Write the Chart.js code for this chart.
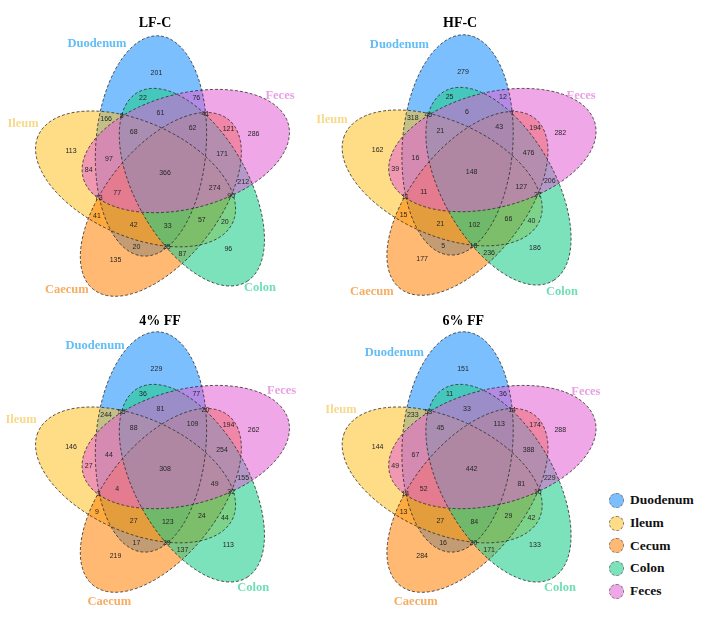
<!DOCTYPE html>
<html>
<head>
<meta charset="utf-8">
<script src="https://cdn.jsdelivr.net/npm/chart.js@4.4.0/dist/chart.umd.min.js"></script>
<style>
  html, body { margin: 0; padding: 0; background: #fff; }
  #wrap { position: relative; width: 708px; height: 618px; overflow: hidden; }
  #wrap canvas { position: absolute; }
  #legend { position: absolute; left: 609px; top: 489px; font: bold 13.5px "Liberation Serif", serif; color: #111; }
  #legend .row { height: 22.7px; display: flex; align-items: center; }
  #legend .dot { width: 15px; height: 15px; border-radius: 50%; border: 1px dashed #777; margin-right: 6px; box-sizing: border-box; }
</style>
</head>
<body>
<div id="wrap"><div id="legend"></div></div>
<script>
// sets (legend order) and the short keys used in region names
const setNames = ['Duodenum', 'Ileum', 'Caecum', 'Colon', 'Feces'];
const legendNames = ['Duodenum', 'Ileum', 'Cecum', 'Colon', 'Feces'];
const setKeys = ['D', 'I', 'Ca', 'Co', 'F'];
const panelTitles = ['LF-C', 'HF-C', '4% FF', '6% FF'];

// every region of the five-set diagram
const regions = [
  'D', 'F', 'Co', 'Ca', 'I',
  'D F', 'F Co', 'Co Ca', 'Ca I', 'I D',
  'D Co', 'F Ca', 'Co I', 'Ca D', 'I F',
  'D F Co', 'F Co Ca', 'Co Ca I', 'Ca I D', 'I D F',
  'D Co I', 'F Ca D', 'Co I F', 'Ca D Co', 'I F Ca',
  'F Co Ca I', 'D Co Ca I', 'D F Ca I', 'D F Co I', 'D F Co Ca',
  'D F Co Ca I'
];

// OTU counts per region, same order as regions
const lfC = [201, 286, 96, 135, 113, 76, 212, 87, 41, 166, 22, 121, 20, 20, 84,
  61, 171, 57, 42, 97, 8, 41, 90, 25, 73, 274, 33, 77, 68, 62, 366];
const hfC = [279, 282, 186, 177, 162, 12, 206, 236, 15, 318, 25, 194, 40, 5, 39,
  6, 476, 66, 21, 16, 46, 7, 27, 18, 11, 127, 102, 11, 21, 43, 148];
const ff4 = [229, 262, 113, 219, 146, 77, 155, 137, 9, 244, 36, 194, 44, 17, 27,
  81, 254, 24, 27, 44, 55, 20, 32, 29, 3, 49, 123, 4, 88, 109, 308];
const ff6 = [151, 288, 133, 284, 144, 36, 229, 171, 13, 233, 11, 174, 42, 16, 49,
  33, 388, 29, 27, 67, 53, 14, 16, 20, 14, 81, 84, 52, 45, 113, 442];
const panelValues = [lfC, hfC, ff4, ff6];

// ---- layout / style ----
const fills = ['rgba(30,144,255,0.58)', 'rgba(255,193,37,0.55)', 'rgba(255,127,0,0.55)',
  'rgba(30,205,140,0.58)', 'rgba(228,95,212,0.55)'];
const catColors = ['#62bdf6', '#f8d98a', '#f6ad62', '#70dfb6', '#ec9fe4'];
const tipAngle = [95, 167, -121, -49, 23];   // direction of each ellipse's free end
const axisTurn = -9.5, centerTurn = 23;      // degrees, relative to tipAngle
const ringDist = 0.13, semiMajor = 0.46, semiMinor = 0.24;
const singleLabelAt = 0.66;                  // share of the semi-major axis
const pxPerUnit = [230, 240];
const centers = [[165, 173.5], [471.6, 172.5], [165, 469.5], [471.6, 469.5]];
const boxes = [[0, 0, 306, 300], [304, 0, 306, 300], [0, 298, 306, 320], [304, 298, 304, 320]];
const catPos = [
  [[-0.296, 0.540], [-0.617, 0.206], [-0.427, -0.485], [0.413, -0.477], [0.500, 0.323]],
  [[-0.314, 0.534], [-0.607, 0.219], [-0.434, -0.497], [0.393, -0.497], [0.476, 0.319]],
  [[-0.304, 0.515], [-0.626, 0.206], [-0.242, -0.553], [0.384, -0.491], [0.507, 0.328]],
  [[-0.336, 0.488], [-0.568, 0.248], [-0.243, -0.551], [0.384, -0.491], [0.497, 0.324]]
];
const titlePos = [[-0.0435, 0.627], [-0.050, 0.623], [-0.022, 0.616], [-0.036, 0.616]];

const ellipses = setKeys.map((_, k) => {
  const t = tipAngle[k] * Math.PI / 180;
  const cDir = t + centerTurn * Math.PI / 180;
  return { cx: ringDist * Math.cos(cDir), cy: ringDist * Math.sin(cDir), rot: t + axisTurn * Math.PI / 180 };
});

function inside(e, x, y) {
  const dx = x - e.cx, dy = y - e.cy;
  const c = Math.cos(e.rot), s = Math.sin(e.rot);
  const u = dx * c + dy * s, v = -dx * s + dy * c;
  return (u * u) / (semiMajor * semiMajor) + (v * v) / (semiMinor * semiMinor) <= 1;
}

function maskOf(region) {
  return region.split(' ').reduce((m, key) => m | (1 << setKeys.indexOf(key)), 0);
}

// label anchor of each region = point farthest from the region's edges;
// single-set labels sit on their ellipse's long axis instead
function regionAnchors() {
  const step = 0.004, lo = -0.72, n = 361;
  const wx = step * pxPerUnit[0], wy = step * pxPerUnit[1], wd = Math.hypot(wx, wy);
  const mask = new Uint8Array(n * n);
  for (let j = 0; j < n; j++) {
    for (let i = 0; i < n; i++) {
      let m = 0;
      ellipses.forEach((e, k) => { if (inside(e, lo + i * step, lo + j * step)) m |= 1 << k; });
      mask[j * n + i] = m;
    }
  }
  const d = new Float32Array(n * n);
  for (let j = 0; j < n; j++) {
    for (let i = 0; i < n; i++) {
      const k = j * n + i, m = mask[k];
      const edge = i === 0 || j === 0 || i === n - 1 || j === n - 1 ||
        mask[k - 1] !== m || mask[k + 1] !== m || mask[k - n] !== m || mask[k + n] !== m;
      d[k] = edge ? 0 : 1e9;
    }
  }
  for (let j = 0; j < n; j++) {
    for (let i = 0; i < n; i++) {
      const k = j * n + i;
      let v = d[k];
      if (i > 0) v = Math.min(v, d[k - 1] + wx);
      if (j > 0) {
        v = Math.min(v, d[k - n] + wy);
        if (i > 0) v = Math.min(v, d[k - n - 1] + wd);
        if (i < n - 1) v = Math.min(v, d[k - n + 1] + wd);
      }
      d[k] = v;
    }
  }
  for (let j = n - 1; j >= 0; j--) {
    for (let i = n - 1; i >= 0; i--) {
      const k = j * n + i;
      let v = d[k];
      if (i < n - 1) v = Math.min(v, d[k + 1] + wx);
      if (j < n - 1) {
        v = Math.min(v, d[k + n] + wy);
        if (i < n - 1) v = Math.min(v, d[k + n + 1] + wd);
        if (i > 0) v = Math.min(v, d[k + n - 1] + wd);
      }
      d[k] = v;
    }
  }
  const best = {};
  for (let k = 0; k < n * n; k++) {
    const m = mask[k];
    if (!m) continue;
    if (!best[m] || d[k] > best[m].d) best[m] = { d: d[k], x: lo + (k % n) * step, y: lo + Math.floor(k / n) * step };
  }
  ellipses.forEach((e, k) => {
    const r = singleLabelAt * semiMajor;
    best[1 << k] = { x: e.cx + r * Math.cos(e.rot), y: e.cy + r * Math.sin(e.rot) };
  });
  return best;
}

const anchors = regionAnchors();
const anchorPoints = regions.map(r => {
  const a = anchors[maskOf(r)];
  return a ? { x: a.x, y: a.y } : { x: NaN, y: NaN };
});

function tracePath(ctx, e, xs, ys) {
  ctx.beginPath();
  const c = Math.cos(e.rot), s = Math.sin(e.rot);
  for (let i = 0; i <= 180; i++) {
    const t = i / 180 * Math.PI * 2;
    const u = semiMajor * Math.cos(t), v = semiMinor * Math.sin(t);
    const px = xs.getPixelForValue(e.cx + u * c - v * s);
    const py = ys.getPixelForValue(e.cy + u * s + v * c);
    if (i === 0) ctx.moveTo(px, py); else ctx.lineTo(px, py);
  }
  ctx.closePath();
}

function makePlugin(p) {
  return {
    id: 'venn' + p,
    beforeDatasetsDraw(chart) {
      const { ctx, scales: { x, y } } = chart;
      ctx.save();
      ellipses.forEach((e, k) => {
        tracePath(ctx, e, x, y);
        ctx.fillStyle = fills[k];
        ctx.fill();
      });
      ctx.setLineDash([3, 2]);
      ctx.strokeStyle = 'rgba(45,45,45,0.9)';
      ctx.lineWidth = 0.9;
      ellipses.forEach(e => { tracePath(ctx, e, x, y); ctx.stroke(); });
      ctx.restore();
    },
    afterDatasetsDraw(chart) {
      const { ctx, scales: { x, y } } = chart;
      ctx.save();
      ctx.textAlign = 'center';
      ctx.textBaseline = 'middle';
      // region counts
      ctx.font = '7px "Liberation Sans", Arial, sans-serif';
      ctx.fillStyle = '#262626';
      chart.getDatasetMeta(0).data.forEach((pt, i) => {
        if (isFinite(pt.x) && isFinite(pt.y)) ctx.fillText(String(panelValues[p][i]), pt.x, pt.y);
      });
      // set names
      ctx.font = 'bold 12.5px "Liberation Serif", serif';
      catPos[p].forEach((pos, k) => {
        ctx.fillStyle = catColors[k];
        ctx.fillText(setNames[k], x.getPixelForValue(pos[0]), y.getPixelForValue(pos[1]));
      });
      // panel title
      ctx.font = 'bold 14px "Liberation Serif", serif';
      ctx.fillStyle = '#000';
      ctx.fillText(panelTitles[p], x.getPixelForValue(titlePos[p][0]), y.getPixelForValue(titlePos[p][1]));
      ctx.restore();
    }
  };
}

const wrap = document.getElementById('wrap');
panelTitles.forEach((title, p) => {
  const [ox, oy] = centers[p];
  const [bl, bt, bw, bh] = boxes[p];
  const canvas = document.createElement('canvas');
  canvas.width = bw;
  canvas.height = bh;
  canvas.style.left = bl + 'px';
  canvas.style.top = bt + 'px';
  wrap.insertBefore(canvas, wrap.firstChild);
  const xMin = -(ox - bl) / pxPerUnit[0];
  const yMax = (oy - bt) / pxPerUnit[1];
  new Chart(canvas.getContext('2d'), {
    type: 'scatter',
    data: {
      datasets: [{ label: title, data: anchorPoints, pointRadius: 0 }]
    },
    options: {
      responsive: false,
      animation: false,
      events: [],
      layout: { padding: 0 },
      plugins: { legend: { display: false }, tooltip: { enabled: false } },
      scales: {
        x: { type: 'linear', min: xMin, max: xMin + bw / pxPerUnit[0], display: false },
        y: { type: 'linear', min: yMax - bh / pxPerUnit[1], max: yMax, display: false }
      }
    },
    plugins: [makePlugin(p)]
  });
});

// legend
const legend = document.getElementById('legend');
legendNames.forEach((name, k) => {
  const row = document.createElement('div');
  row.className = 'row';
  const dot = document.createElement('span');
  dot.className = 'dot';
  dot.style.background = fills[k];
  const label = document.createElement('span');
  label.textContent = name;
  row.appendChild(dot);
  row.appendChild(label);
  legend.appendChild(row);
});
</script>
</body>
</html>
